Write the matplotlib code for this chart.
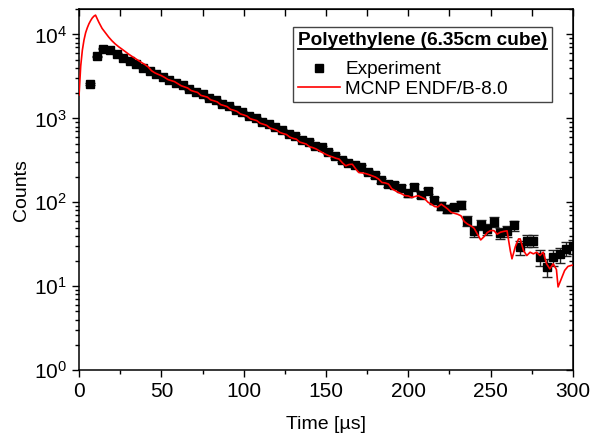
import numpy as np
import matplotlib
matplotlib.use("Agg")
import matplotlib.pyplot as plt
from matplotlib.lines import Line2D
from matplotlib.ticker import MultipleLocator, LogLocator, NullFormatter

plt.rcParams["font.family"] = ["Liberation Sans", "DejaVu Sans"]

# experiment: 4 us bins
exp_time = np.round(6.7 + 4.02 * np.arange(74), 1)
exp_counts = [2580, 5510, 6800, 6440, 5870, 5260, 4810, 4390, 4000, 3690,
              3420, 3130, 2900, 2660, 2470, 2250, 2090, 1930, 1760, 1650,
              1500, 1400, 1270, 1190, 1080, 1010, 915, 860, 780, 730,
              660, 620, 560, 530, 470, 450, 400, 357, 320, 292,
              280, 265, 230, 210, 183, 165, 160, 150, 128, 154,
              123, 137, 106, 91, 83, 87, 94, 60, 45, 54,
              48, 59, 43, 45, 53, 29, 35, 35, 22, 17,
              22, 24, 28, 30]
exp_err = np.sqrt(np.array(exp_counts, dtype=float))

# MCNP ENDF/B-8.0 simulation
sim_time = [0, 1, 2, 3, 4, 5, 6, 7, 8, 9, 10, 12, 14, 16, 18, 20, 22, 24, 26, 28,
            30, 32, 34, 36, 38, 40, 42, 44, 46, 48, 50, 52, 54, 56, 58, 60,
            62, 64, 66, 68, 70, 72, 74, 76, 78, 80, 82, 84, 86, 88, 90, 92,
            94, 96, 98, 100, 102, 104, 106, 108, 110, 112, 114, 116, 118, 120,
            122, 124, 126, 128, 130, 132, 134, 136, 138, 140, 142, 144, 146,
            148, 150, 152, 154, 156, 158, 160, 162, 164, 166, 168, 170, 172,
            174, 176, 178, 180, 182, 184, 186, 188, 190, 192, 194, 196, 198,
            200, 202, 204, 206, 208, 210, 212, 214, 216, 218, 220, 222, 224,
            226, 228, 230, 232, 234, 236, 238, 240, 242, 244, 246, 248, 250,
            252, 254, 256, 258, 260, 262, 263, 265, 267, 268, 270, 272, 274,
            276, 278, 280, 282, 284, 286, 288, 290, 291, 293, 295, 297, 299, 300]
sim_counts = [1900, 4200, 6500, 8600, 10500, 12000, 13400, 14600, 15700, 16500,
              17000, 14000, 11800, 10500, 9300, 8400, 7700, 7150, 6700, 6250,
              5850, 5500, 5200, 4900, 4620, 4380, 4100, 3700, 3490, 3350,
              3230, 3075, 2900, 2820, 2740, 2590, 2450, 2377, 2300, 2150,
              2089, 2040, 1880, 1837, 1790, 1660, 1618, 1570, 1460, 1422,
              1380, 1280, 1250, 1210, 1130, 1099, 1065, 990, 966, 940,
              875, 851, 825, 768, 748, 725, 680, 658, 642, 598,
              578, 565, 522, 508, 494, 460, 448, 432, 410,
              389, 372, 357, 347, 335, 327, 295, 272, 282, 284, 251, 226, 224,
              220, 214, 207, 200, 189, 172, 170, 165, 145, 138, 131, 126, 120,
              119, 114, 117, 120, 115, 110, 100, 95, 89, 88, 95, 89, 83,
              76, 74, 72, 69, 59, 55, 52.5, 49, 41.7, 35.6, 38.9, 43.6, 46,
              46, 41.7, 44, 45, 45.7, 26.3, 21.2, 29.5, 36.6, 36.6, 26.6, 23.2, 25.4,
              24.3, 25.4, 23.2, 25.4, 18.5, 16.1, 18.5, 15.8, 9.8, 12.3, 15.4, 17.2, 17.7, 17.8]

fig = plt.figure(figsize=(5.9, 4.38), dpi=100)
ax = fig.add_axes([0.134, 0.155, 0.837, 0.824])

ax.errorbar(exp_time, exp_counts, yerr=exp_err, fmt="s", color="black",
            ms=6, elinewidth=1, capsize=3.5, capthick=1, ecolor="#222222", zorder=2)
ax.plot(sim_time, sim_counts, color="red", lw=1.2, zorder=3)

ax.set_yscale("log")
ax.set_xlim(0, 300)
ax.set_ylim(1, 2e4)
ax.xaxis.set_major_locator(MultipleLocator(50))
ax.xaxis.set_minor_locator(MultipleLocator(25))
ax.yaxis.set_minor_locator(LogLocator(base=10, subs=np.arange(2, 10)))
ax.yaxis.set_minor_formatter(NullFormatter())

ax.tick_params(which="both", direction="out", top=False, right=False, width=1)
ax.tick_params(which="major", length=5, labelsize=15)
ax.tick_params(which="minor", length=3)
# mirrored inward ticks on top/right
ax2 = ax.secondary_xaxis("top")
ax2.xaxis.set_major_locator(MultipleLocator(25))
ax2.tick_params(direction="in", length=5, width=1, labeltop=False)
ax3 = ax.secondary_yaxis("right")
ax3.set_yscale("log")
ax3.yaxis.set_minor_locator(LogLocator(base=10, subs=np.arange(2, 10)))
ax3.tick_params(which="both", direction="in", width=1, labelright=False)
ax3.tick_params(which="major", length=5)
ax3.tick_params(which="minor", length=3)
for s in ax.spines.values():
    s.set_linewidth(1.1)

ax.set_xlabel("Time [µs]", fontsize=14, labelpad=11)
ax.set_ylabel("Counts", fontsize=14, labelpad=3)

handles = [Line2D([], [], ls="none", marker="s", ms=6, color="black"),
           Line2D([], [], color="red", lw=1.2)]
leg = ax.legend(handles, ["Experiment", "MCNP ENDF/B-8.0"],
                title="Polyethylene (6.35cm cube)", loc="upper right",
                bbox_to_anchor=(0.9575, 0.951), borderaxespad=0,
                fontsize=13.7, title_fontsize=13.7, fancybox=False,
                edgecolor="#444444", framealpha=1, handlelength=2.2,
                handletextpad=0.3, labelspacing=0.1, borderpad=0.25,
                alignment="left")
leg.get_title().set_fontweight("bold")
leg.get_frame().set_linewidth(1)
leg._legend_box.sep = 9  # extra gap between title and entries

# underline the legend title
fig.canvas.draw()
bb = leg.get_title().get_window_extent(fig.canvas.get_renderer())
inv = fig.transFigure.inverted()
(x0, y0), (x1, _) = inv.transform([(bb.x0, bb.y0), (bb.x1, bb.y1)])
fig.add_artist(Line2D([x0, x1], [y0, y0], color="black", lw=1.3, transform=fig.transFigure))

fig.savefig("out.png", dpi=100)
